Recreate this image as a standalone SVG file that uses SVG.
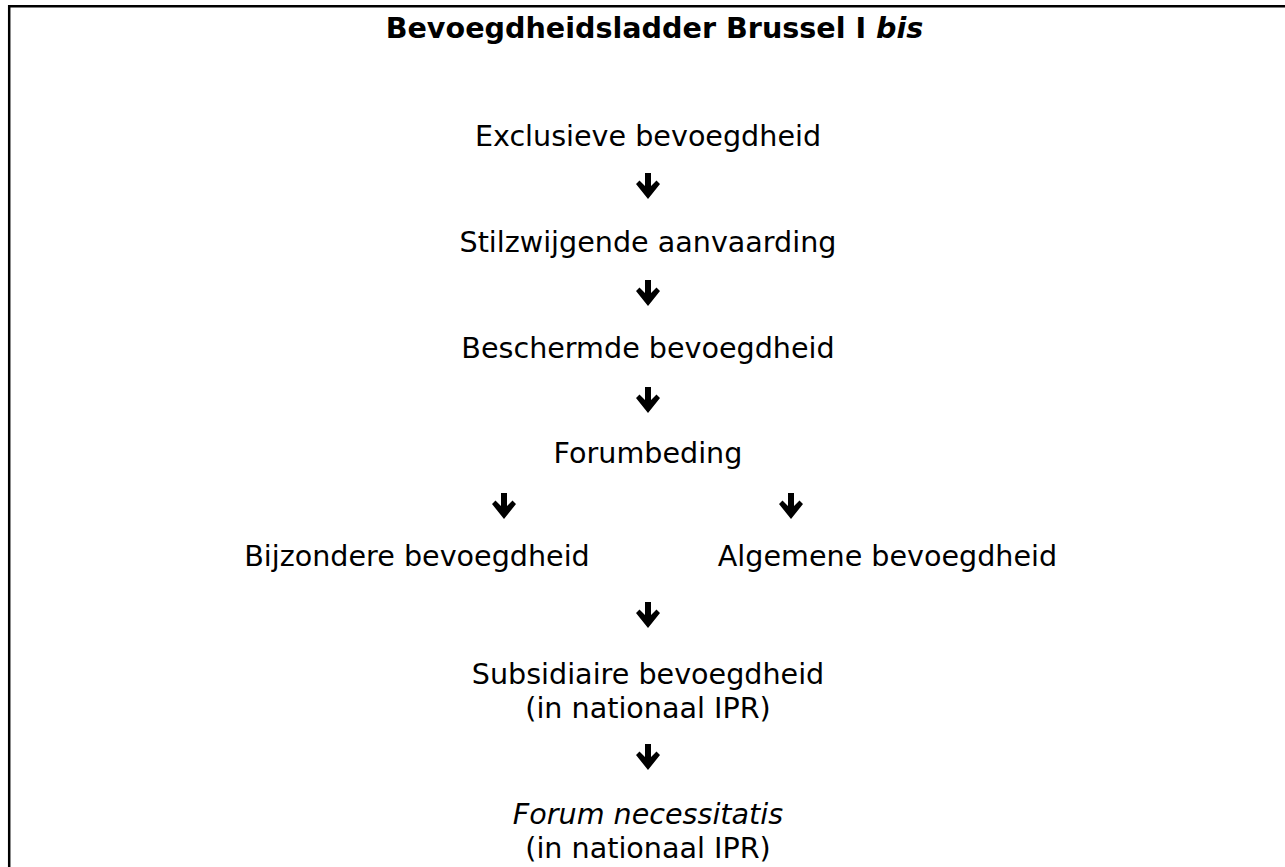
<svg xmlns="http://www.w3.org/2000/svg" xmlns:xlink="http://www.w3.org/1999/xlink" width="1285" height="867" viewBox="0 0 1285 867">
<style>
text{font-family:"DejaVu Sans",Verdana,sans-serif;font-size:28.6px;fill:#000;text-anchor:middle}
.title{font-weight:bold}
.it{font-style:italic}
.frame{fill:none;stroke:#000;stroke-width:2.5}
.arr{fill:#000}
</style>
<defs>
<polygon id="arrow" class="arr" points="-3,0 3,0 3,13 8.5,7.5 12,11 0,26 -12,11 -8.5,7.5 -3,13"/>
</defs>
<rect width="1285" height="867" fill="#fff"/>
<path class="frame" d="M9.2 867 V6.2 H1285"/>
<g id="title"><text class="title" x="654.5" y="38">Bevoegdheidsladder Brussel I <tspan class="it">bis</tspan></text></g>
<g id="exclusieve"><text x="648" y="146">Exclusieve bevoegdheid</text></g>
<g id="stilzwijgende"><text x="648" y="252">Stilzwijgende aanvaarding</text></g>
<g id="beschermde"><text x="648" y="358">Beschermde bevoegdheid</text></g>
<g id="forumbeding"><text x="648" y="463">Forumbeding</text></g>
<g id="bijzondere"><text x="417" y="566">Bijzondere bevoegdheid</text></g>
<g id="algemene"><text x="887.5" y="566">Algemene bevoegdheid</text></g>
<g id="subsidiaire"><text x="648" y="684">Subsidiaire bevoegdheid</text><text x="648" y="718">(in nationaal IPR)</text></g>
<g id="forumnec"><text x="648" y="824"><tspan class="it">Forum necessitatis</tspan></text><text x="648" y="858">(in nationaal IPR)</text></g>
<g id="connectors">
<use xlink:href="#arrow" x="648" y="173"/>
<use xlink:href="#arrow" x="648" y="280"/>
<use xlink:href="#arrow" x="648" y="387"/>
<use xlink:href="#arrow" x="504" y="493"/>
<use xlink:href="#arrow" x="791" y="493"/>
<use xlink:href="#arrow" x="648" y="602"/>
<use xlink:href="#arrow" x="648" y="744"/>
</g>
</svg>
